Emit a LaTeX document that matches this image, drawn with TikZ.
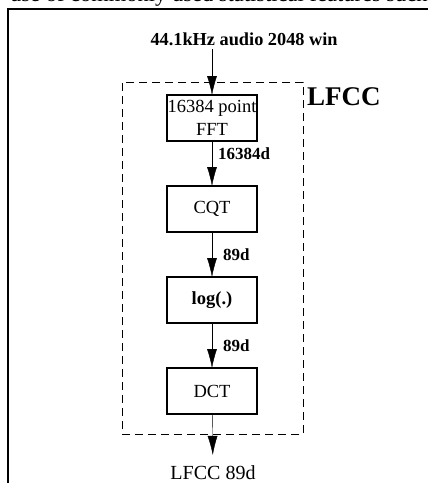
\documentclass[tikz,border=0pt]{standalone}
\usepackage{fontspec}
\setmainfont{Liberation Serif}
\usetikzlibrary{arrows.meta, positioning}

\begin{document}
\begin{tikzpicture}[
    x=1pt, y=-1pt, node distance=45pt,
    font=\fontsize{18.5}{23}\selectfont,
    box/.style={draw, line width=1.2pt, minimum width=90pt, minimum height=46pt, inner sep=0pt, outer sep=0pt, align=center},
    lbl/.style={font=\fontsize{17}{20}\selectfont\bfseries, anchor=west, inner sep=0pt},
    group/.style={draw, dash pattern=on 8pt off 5pt, line width=1pt, minimum width=181pt, minimum height=352pt},
    >={Latex[length=19pt, width=10pt]}]
\useasboundingbox (0,0) rectangle (428,483);
\clip (0,0) rectangle (428,483);
\node[font=\fontsize{22.5}{27}\selectfont, anchor=base west, inner sep=0pt] (caption) at (10,1.5) {use of commonly used statistical features such};
\draw[line width=1.6pt] (8,9) rectangle (440,500);
\node[group] (lfcc) at (212.5,258) {};
\node[font=\fontsize{27}{32}\selectfont\bfseries, anchor=base west, inner sep=0pt] (lfccname) at (307,105) {LFCC};
\node[font=\fontsize{18.3}{22}\selectfont\bfseries, anchor=base west] (input) at (147,45) {44.1kHz audio 2048 win};
\node[box] (fft) at (212,118) {16384 point\\FFT};
\node[box, below=of fft] (cqt) {CQT};
\node[box, below=of cqt] (log) {\bfseries log(.)};
\node[box, below=of log] (dct) {DCT};
\node[font=\fontsize{20}{23}\selectfont, anchor=base, inner ysep=10pt] (output) at (213,479) {LFCC 89d};
\draw[->] (input.south -| fft) -- (fft);
\draw[->] (fft) -- node[lbl, pos=0.29, xshift=6pt] {16384d} (cqt);
\draw[->] (cqt) -- node[lbl, xshift=11pt] {89d} (log);
\draw[->] (log) -- node[lbl, xshift=11pt] {89d} (dct);
\draw[->] (dct) -- (output);
\end{tikzpicture}
\end{document}
